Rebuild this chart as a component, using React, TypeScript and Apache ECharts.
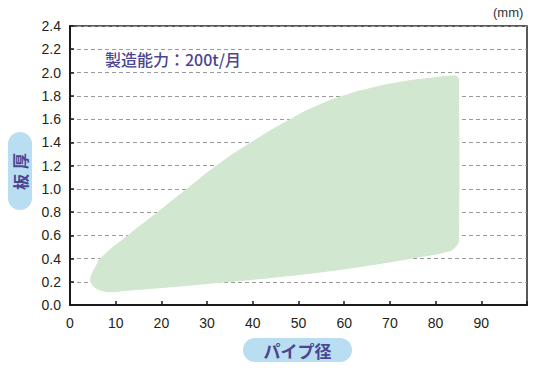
import React, { useEffect, useRef } from "react";
import * as echarts from "echarts";

const xTicks = [0, 10, 20, 30, 40, 50, 60, 70, 80, 90];
const upperX = [4.5, 5, 5.8, 6.7, 12.8, 19.3, 25.7, 32.2, 39.8, 48.4, 54, 60, 66, 71.4, 78.7, 84, 84.8, 85];
const upperY = [0.22, 0.28, 0.34, 0.4, 0.6, 0.8, 1.0, 1.2, 1.4, 1.6, 1.71, 1.8, 1.865, 1.91, 1.95, 1.97, 1.96, 1.93];
const lowerX = [85, 84.7, 84, 83, 75, 65.6, 55, 43.6, 30, 20, 12, 9, 7, 5.5, 4.7];
const lowerY = [0.56, 0.52, 0.49, 0.465, 0.405, 0.344, 0.285, 0.235, 0.185, 0.15, 0.125, 0.115, 0.125, 0.152, 0.19];

const FONT = "'Liberation Sans', Arial, sans-serif";
const CJK = "'Noto Sans CJK JP', sans-serif";
const PURPLE = "#4b4590";

export default function App() {
  const ref = useRef<HTMLDivElement>(null);
  useEffect(() => {
    const chart = echarts.init(ref.current!, null, { renderer: "svg" });
    const pts: number[][] = [];
    upperX.forEach((x, i) => pts.push([x, upperY[i]]));
    lowerX.forEach((x, i) => pts.push([x, lowerY[i]]));
    chart.setOption({
      animation: false,
      grid: { left: 70, right: 6, top: 26, bottom: 69, show: true, borderColor: "#222", borderWidth: 1.5, backgroundColor: "transparent" },
      xAxis: {
        type: "value",
        min: 0,
        max: 100,
        interval: 10,
        axisLine: { show: true, onZero: false, lineStyle: { color: "#1a1a1a", width: 2 } },
        axisTick: { show: true, inside: true, length: 4, lineStyle: { color: "#1a1a1a", width: 1.5 } },
        axisLabel: {
          margin: 11,
          color: "#231f20",
          fontFamily: FONT,
          fontSize: 14,
          formatter: (v: number) => (xTicks.includes(v) ? String(v) : ""),
        },
        splitLine: { show: false },
      },
      yAxis: {
        type: "value",
        min: 0,
        max: 2.4,
        interval: 0.2,
        axisLine: { show: true, onZero: false, lineStyle: { color: "#1a1a1a", width: 2 } },
        axisTick: { show: true, inside: true, length: 4, lineStyle: { color: "#1a1a1a", width: 1.5 } },
        axisLabel: {
          margin: 9,
          color: "#231f20",
          fontFamily: FONT,
          fontSize: 14,
          formatter: (v: number) => v.toFixed(1),
        },
        splitLine: { show: true, lineStyle: { color: "#9a9a9a", type: [4, 3], width: 1 } },
      },
      series: [
        {
          type: "custom",
          data: [[0, 0]],
          clip: true,
          z: 1,
          renderItem: (params: any, api: any) => {
            const points = pts.map((p) => api.coord(p));
            return {
              type: "polygon",
              shape: { points, smooth: 0.6 },
              style: { fill: "#d1e7d0", stroke: "#d1e7d0", lineWidth: 1, lineJoin: "round" },
            };
          },
        },
      ],
      graphic: [
        {
          type: "text",
          left: 105,
          top: 51,
          style: { text: "製造能力：200t/月", fill: PURPLE, font: `500 16px ${CJK}` },
        },
        {
          type: "text",
          left: 493,
          top: 6,
          style: { text: "(mm)", fill: "#333", font: `13px ${FONT}` },
        },
        {
          type: "rect",
          shape: { x: 8, y: 132, width: 24, height: 78, r: 12 },
          style: { fill: "#b9def2" },
        },
        {
          type: "text",
          x: 20,
          y: 161,
          rotation: Math.PI / 2,
          style: { text: "厚", fill: PURPLE, font: `bold 16px ${CJK}`, align: "center", verticalAlign: "middle" },
        },
        {
          type: "text",
          x: 20,
          y: 182,
          rotation: Math.PI / 2,
          style: { text: "板", fill: PURPLE, font: `bold 16px ${CJK}`, align: "center", verticalAlign: "middle" },
        },
        {
          type: "rect",
          shape: { x: 243, y: 338, width: 109, height: 24, r: 12 },
          style: { fill: "#b9def2" },
        },
        {
          type: "text",
          x: 297.5,
          y: 350,
          style: { text: "パイプ径", fill: PURPLE, font: `bold 17px ${CJK}`, align: "center", verticalAlign: "middle" },
        },
      ],
    });
    return () => chart.dispose();
  }, []);
  return <div ref={ref} style={{ width: 533, height: 374, position: "absolute", left: 0, top: 0 }} />;
}
